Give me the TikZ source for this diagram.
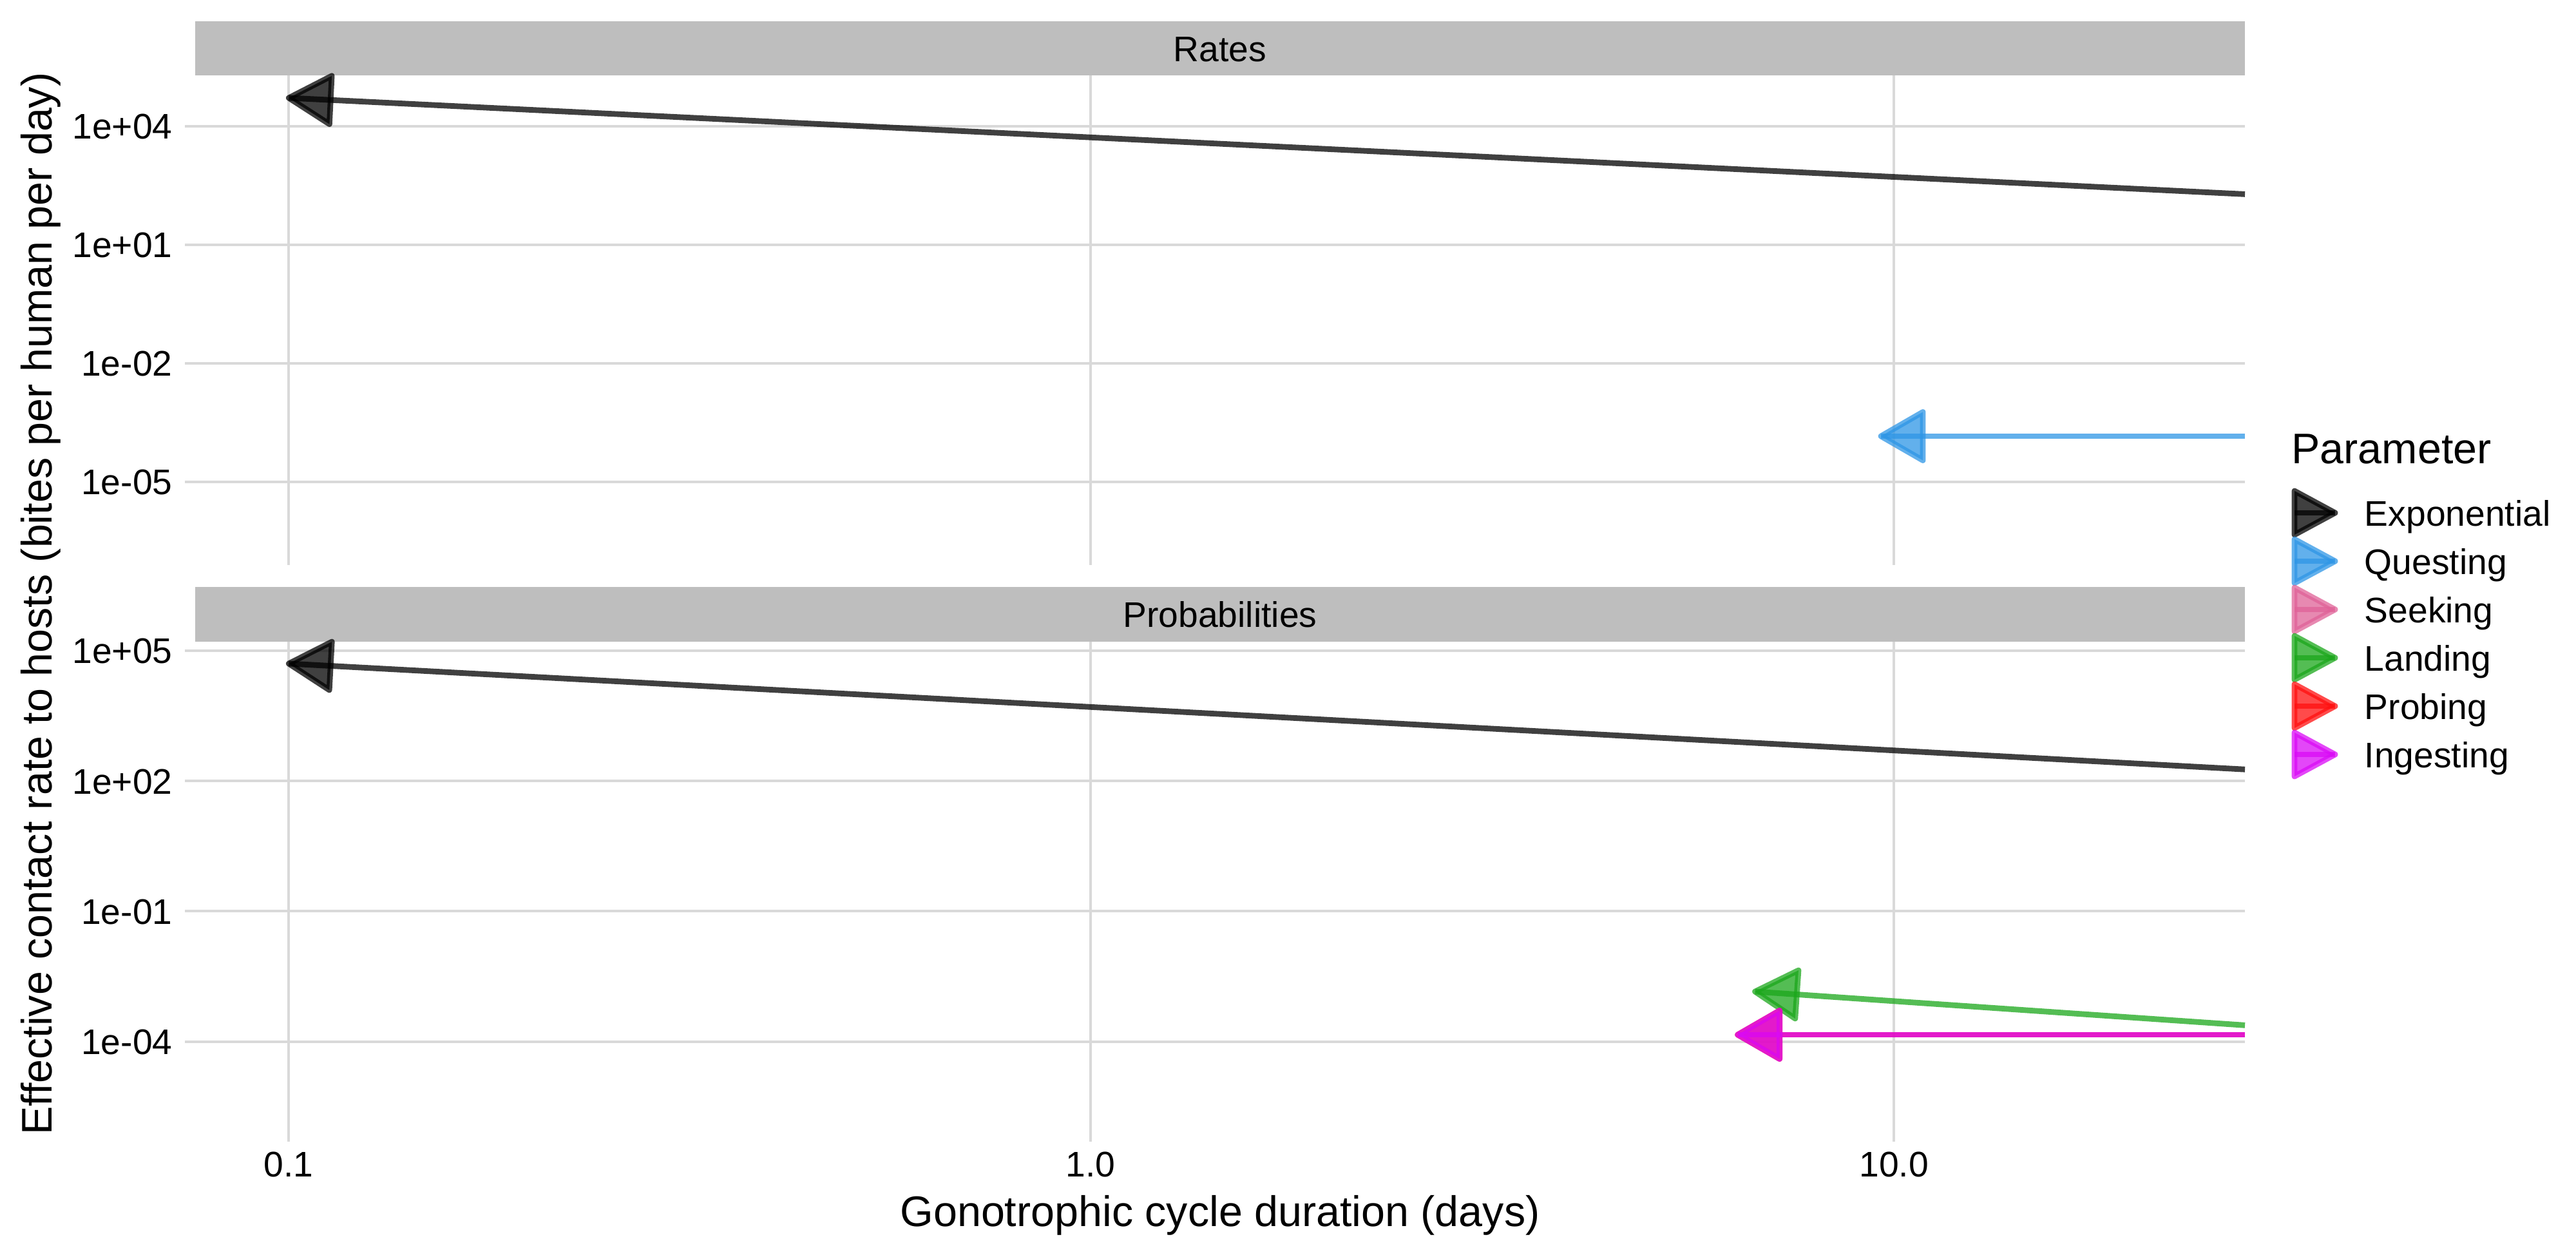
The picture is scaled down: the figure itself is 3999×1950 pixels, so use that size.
\documentclass[tikz,border=0pt]{standalone}
\usepackage{fontspec}
\setmainfont{Liberation Sans}
\usetikzlibrary{calc}
\definecolor{gridc}{RGB}{217,217,217}
\definecolor{stripc}{RGB}{190,190,190}
\definecolor{cExp}{RGB}{0,0,0}
\definecolor{cQue}{RGB}{46,150,230}
\definecolor{cSee}{RGB}{224,98,152}
\definecolor{cLan}{RGB}{27,167,27}
\definecolor{cPro}{RGB}{255,16,16}
\definecolor{cIng}{RGB}{218,10,246}
\tikzset{
  gridline/.style={draw=gridc, line width=1pt},
  stripbox/.style={fill=stripc, draw=none},
  seg/.style={line width=2.12pt, draw opacity=0.75, line cap=butt},
  head/.style={line width=2.12pt, draw opacity=0.75, fill opacity=0.75, line join=round},
  ticklab/.style={font=\fontsize{13.3}{16}\selectfont, inner sep=0pt, text=black},
  titlelab/.style={font=\fontsize{16}{19}\selectfont, inner sep=0pt, text=black},
}
\newcommand\plotarrow[5]{%
  \draw[seg, draw=#1] (#3) -- (#2);
  \coordinate (hb) at ($(#2)!#4!(#3)$);
  \filldraw[head, draw=#1, fill=#1] (#2) -- ($(hb)!#5!90:(#2)$) -- ($(hb)!#5!-90:(#2)$) -- cycle;
}
\begin{document}
\begin{tikzpicture}[x=0.2409pt, y=-0.2409pt]
\fill[white] (0,0) rectangle (3999,1950);
\useasboundingbox (0,0) rectangle (3999,1950);

% ---------- top panel grid ----------
\foreach \yy in {196,380,564,748} {\draw[gridline] (287,\yy) -- (3485,\yy);}
\foreach \xx in {448.3,1693.3,2940} {\draw[gridline] (\xx,117.3) -- (\xx,877);}
% ---------- bottom panel grid ----------
\foreach \yy in {1010,1212.2,1414.4,1616.6} {\draw[gridline] (287,\yy) -- (3485,\yy);}
\foreach \xx in {448.3,1693.3,2940} {\draw[gridline] (\xx,996) -- (\xx,1771.7);}

% ---------- strips ----------
\fill[stripbox] (302.7,33.3) rectangle (3485,117.3);
\node[ticklab, anchor=base] (striptop) at (1894,95.3) {Rates};
\fill[stripbox] (302.7,911) rectangle (3485,996);
\node[ticklab, anchor=base] (stripbot) at (1894,973.3) {Probabilities};

% ---------- y tick labels ----------
\node[ticklab, anchor=base east] (yt1) at (268.3,215.8) {1e+04};
\node[ticklab, anchor=base east] (yt2) at (268.3,399.8) {1e+01};
\node[ticklab, anchor=base east] (yt3) at (268.3,583.8) {1e-02};
\node[ticklab, anchor=base east] (yt4) at (268.3,767.8) {1e-05};
\node[ticklab, anchor=base east] (yb1) at (268.3,1029.8) {1e+05};
\node[ticklab, anchor=base east] (yb2) at (268.3,1232) {1e+02};
\node[ticklab, anchor=base east] (yb3) at (268.3,1434.2) {1e-01};
\node[ticklab, anchor=base east] (yb4) at (268.3,1636.4) {1e-04};

% ---------- x tick labels ----------
\node[ticklab, anchor=base] (xt1) at (448.3,1826.7) {0.1};
\node[ticklab, anchor=base] (xt2) at (1693.3,1826.7) {1.0};
\node[ticklab, anchor=base] (xt3) at (2940,1826.7) {10.0};

% ---------- axis titles ----------
\node[titlelab, anchor=base] (xtitle) at (1894,1903.3) {Gonotrophic cycle duration (days)};
\node[titlelab, anchor=base, rotate=90] (ytitle) at (80,937) {Effective contact rate to hosts (bites per human per day)};

% ---------- data: top panel ----------
\coordinate (expTtip) at (448.3,152);
\coordinate (expTend) at (3485,301.4);
\plotarrow{cExp}{expTtip}{expTend}{15.66pt}{9.03pt}
\coordinate (queTtip) at (2920,677);
\coordinate (queTend) at (3485,677);
\plotarrow{cQue}{queTtip}{queTend}{15.66pt}{9.03pt}

% ---------- data: bottom panel ----------
\coordinate (expBtip) at (448.3,1030);
\coordinate (expBend) at (3485,1194.2);
\plotarrow{cExp}{expBtip}{expBend}{15.66pt}{9.03pt}
\coordinate (lanBtip) at (2724.5,1539);
\coordinate (lanBend) at (3485,1591.3);
\plotarrow{cLan}{lanBtip}{lanBend}{15.66pt}{9.03pt}
\coordinate (proBtip) at (2697.6,1606);
\coordinate (proBend) at (3485,1606);
\plotarrow{cPro}{proBtip}{proBend}{15.66pt}{9.03pt}
\coordinate (ingBtip) at (2697.6,1606);
\coordinate (ingBend) at (3485,1606);
\plotarrow{cIng}{ingBtip}{ingBend}{15.66pt}{9.03pt}

% ---------- legend ----------
\node[titlelab, anchor=base west] (legtitle) at (3556.7,719.3) {Parameter};
\foreach \nm/\col/\lab/\yc in {k1/cExp/Exponential/796, k2/cQue/Questing/871, k3/cSee/Seeking/946, k4/cLan/Landing/1021, k5/cPro/Probing/1096, k6/cIng/Ingesting/1171} {
  \coordinate (\nm tail) at (3562,\yc);
  \coordinate (\nm tip) at (3625,\yc);
  \plotarrow{\col}{\nm tip}{\nm tail}{15.18pt}{8.19pt}
  \node[ticklab, anchor=base west] (\nm lab) at (3670,\yc+20.3) {\lab};
}
\end{tikzpicture}
\end{document}
